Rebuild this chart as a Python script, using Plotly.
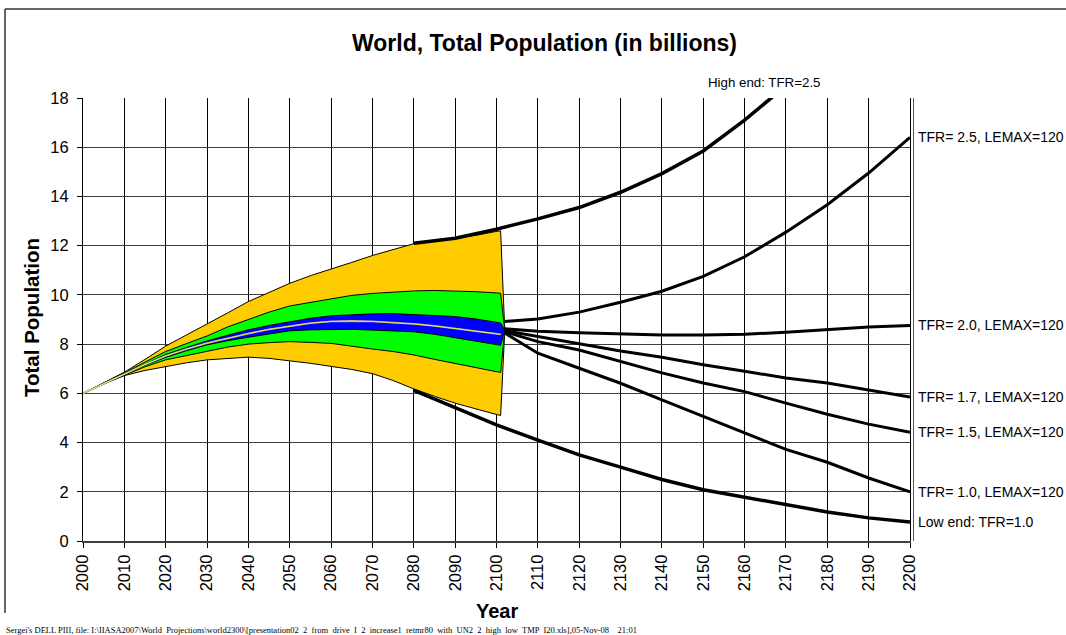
import plotly.graph_objects as go

# ---- Probabilistic fan (billions), 2000-2100 ----
fan_years = [2000, 2005, 2010, 2015, 2020, 2025, 2030, 2035, 2040, 2045, 2050,
             2055, 2060, 2065, 2070, 2075, 2080, 2085, 2090, 2095, 2100, 2101, 2102]
outer_hi = [6.0, 6.42, 6.86, 7.38, 7.92, 8.37, 8.81, 9.27, 9.73, 10.1, 10.47,
            10.78, 11.04, 11.32, 11.6, 11.85, 12.08, 12.18, 12.3, 12.42, 12.58, 12.6, 8.56]
outer_lo = [6.0, 6.38, 6.72, 6.93, 7.09, 7.24, 7.36, 7.43, 7.47, 7.42, 7.32,
            7.22, 7.11, 6.97, 6.8, 6.52, 6.18, 5.88, 5.6, 5.36, 5.14, 5.1, 8.56]
mid_hi = [6.0, 6.41, 6.83, 7.27, 7.7, 8.02, 8.33, 8.7, 9.01, 9.3, 9.55,
          9.7, 9.82, 9.98, 10.06, 10.12, 10.16, 10.18, 10.16, 10.13, 10.08, 10.07, 8.56]
mid_lo = [6.0, 6.39, 6.75, 7.08, 7.36, 7.55, 7.7, 7.88, 8.0, 8.06, 8.1,
          8.07, 8.03, 7.92, 7.8, 7.7, 7.56, 7.38, 7.2, 7.04, 6.88, 6.85, 8.56]
inner_hi = [6.0, 6.4, 6.81, 7.2, 7.58, 7.86, 8.13, 8.36, 8.58, 8.76, 8.92,
            9.05, 9.15, 9.2, 9.23, 9.24, 9.21, 9.17, 9.12, 9.02, 8.88, 8.86, 8.56]
inner_lo = [6.0, 6.4, 6.77, 7.14, 7.46, 7.73, 7.97, 8.14, 8.28, 8.42, 8.54,
            8.58, 8.6, 8.6, 8.57, 8.55, 8.5, 8.4, 8.28, 8.13, 7.98, 7.95, 8.56]
median = [6.0, 6.4, 6.79, 7.17, 7.52, 7.8, 8.04, 8.25, 8.43, 8.6, 8.74,
          8.85, 8.92, 8.94, 8.92, 8.88, 8.82, 8.74, 8.64, 8.53, 8.41, 8.4, 8.56]

# ---- Deterministic scenarios after 2100 ----
scen_years = [2102, 2110, 2120, 2130, 2140, 2150, 2160, 2170, 2180, 2190, 2200]
tfr25 = [8.92, 9.02, 9.3, 9.7, 10.15, 10.75, 11.55, 12.55, 13.66, 14.95, 16.4]
tfr20 = [8.62, 8.52, 8.46, 8.4, 8.37, 8.37, 8.4, 8.48, 8.6, 8.7, 8.76]
tfr17 = [8.55, 8.31, 8.01, 7.72, 7.47, 7.16, 6.9, 6.62, 6.42, 6.13, 5.85]
tfr15 = [8.5, 8.1, 7.76, 7.28, 6.83, 6.42, 6.07, 5.6, 5.15, 4.75, 4.42]
tfr10 = [8.45, 7.63, 7.02, 6.41, 5.73, 5.05, 4.38, 3.72, 3.2, 2.56, 2.0]

end_years = [2080, 2090, 2100, 2110, 2120, 2130, 2140, 2150, 2160, 2170, 2180, 2190, 2200]
high_end = [12.1, 12.3, 12.67, 13.09, 13.55, 14.17, 14.93, 15.85, 17.1, 18.5, 19.9, 21.5, 23.2]
low_end = [6.12, 5.43, 4.72, 4.1, 3.5, 3.0, 2.5, 2.08, 1.78, 1.46, 1.18, 0.94, 0.77]

scenario_labels = ["TFR= 2.5, LEMAX=120", "TFR= 2.0, LEMAX=120", "TFR= 1.7, LEMAX=120",
                   "TFR= 1.5, LEMAX=120", "TFR= 1.0, LEMAX=120"]
high_label = "High end: TFR=2.5"
low_label = "Low end: TFR=1.0"

FONT = "Liberation Sans, Arial, sans-serif"

fig = go.Figure()


def band(upper, lower, color):
    fig.add_trace(go.Scatter(
        x=fan_years + fan_years[::-1], y=upper + lower[::-1],
        mode="lines", fill="toself", fillcolor=color,
        line=dict(color="black", width=1), hoverinfo="skip"))


band(outer_hi, outer_lo, "#FFCC00")
band(mid_hi, mid_lo, "#00FF00")
band(inner_hi, inner_lo, "#0000FF")

fig.add_trace(go.Scatter(x=fan_years[:-1], y=median[:-1], mode="lines",
                         line=dict(color="#9A9A9A", width=1.8)))
fig.add_trace(go.Scatter(x=fan_years[:-1], y=median[:-1], mode="lines",
                         line=dict(color="#FFFF40", width=0.8)))

for series in (tfr25, tfr20, tfr17, tfr15, tfr10):
    fig.add_trace(go.Scatter(x=scen_years, y=series, mode="lines",
                             line=dict(color="black", width=3)))
for series in (high_end, low_end):
    fig.add_trace(go.Scatter(x=end_years, y=series, mode="lines",
                             line=dict(color="black", width=3.5)))

# plot area in pixels: x 83..910, y 98..541
L, R, T, B = 83, 910, 98, 541
W, H = R - L, B - T


def px(xp):
    return (xp - L) / W


def py(yp):
    return (B - yp) / H


ann = []
ann.append(dict(text="World, Total Population (in billions)", x=px(544), y=py(43),
                xref="paper", yref="paper", showarrow=False, xanchor="center", yanchor="middle",
                font=dict(family=FONT, size=23, color="black", weight="bold")))
ann.append(dict(text="Total Population", x=px(31), y=py(318), textangle=-90,
                xref="paper", yref="paper", showarrow=False, xanchor="center", yanchor="middle",
                font=dict(family=FONT, size=20.5, color="black", weight="bold")))
ann.append(dict(text="Year", x=px(497), y=py(611),
                xref="paper", yref="paper", showarrow=False, xanchor="center", yanchor="middle",
                font=dict(family=FONT, size=20, color="black", weight="bold")))
ann.append(dict(text=high_label, x=px(764), y=py(82),
                xref="paper", yref="paper", showarrow=False, xanchor="center", yanchor="middle",
                font=dict(family=FONT, size=13.3, color="black")))
for label, series in zip(scenario_labels, (tfr25, tfr20, tfr17, tfr15, tfr10)):
    ann.append(dict(text=label, x=px(916), y=series[-1], xref="paper", yref="y",
                    showarrow=False, xanchor="left", yanchor="middle",
                    font=dict(family=FONT, size=14, color="black")))
ann.append(dict(text=low_label, x=px(916), y=low_end[-1], xref="paper", yref="y",
                showarrow=False, xanchor="left", yanchor="middle",
                font=dict(family=FONT, size=14, color="black")))
ann.append(dict(text=("Sergei's DELL PIII, file: I:\\IIASA2007\\World  Projections\\world2300\\"
                      "[presentation02  2  from  drive  I  2  increase1  retmr80  with  UN2  2  "
                      "high  low  TMP  I20.xls],05-Nov-08    21:01"),
                x=px(4), y=py(630), xref="paper", yref="paper", showarrow=False,
                xanchor="left", yanchor="middle",
                font=dict(family="Liberation Serif, Times New Roman, serif", size=8.5, color="black")))

shapes = [
    # outer frame (top and left edges)
    dict(type="line", xref="paper", yref="paper", x0=px(5), x1=px(1070), y0=py(9), y1=py(9),
         line=dict(color="#333333", width=1.5)),
    dict(type="line", xref="paper", yref="paper", x0=px(5), x1=px(5), y0=py(9), y1=py(613),
         line=dict(color="#333333", width=1.5)),
    # second vertical rule just right of the plot area
    dict(type="line", xref="paper", yref="paper", x0=px(913.5), x1=px(913.5), y0=0, y1=1,
         line=dict(color="#555555", width=1)),
]

fig.update_layout(
    width=1066, height=635,
    margin=dict(l=L, r=1066 - R, t=T, b=635 - B),
    paper_bgcolor="white", plot_bgcolor="white",
    showlegend=False,
    annotations=ann, shapes=shapes,
    font=dict(family=FONT, color="black"),
)
fig.update_xaxes(range=[2000, 2200], dtick=10, tick0=2000, tickangle=-90,
                 showgrid=True, gridcolor="black", gridwidth=1,
                 ticks="outside", ticklen=5, tickcolor="black",
                 showline=True, linecolor="#404040", linewidth=2, mirror=False,
                 tickfont=dict(family=FONT, size=16.5, color="black"), zeroline=False)
fig.update_yaxes(range=[0, 18], dtick=2, tick0=0,
                 showgrid=True, gridcolor="#404040", gridwidth=1,
                 ticks="outside", ticklen=5, tickcolor="black",
                 showline=True, linecolor="black", linewidth=1, mirror=True,
                 ticklabelstandoff=5,
                 tickfont=dict(family=FONT, size=16.5, color="black"), zeroline=False)

fig.write_html("out.html")
